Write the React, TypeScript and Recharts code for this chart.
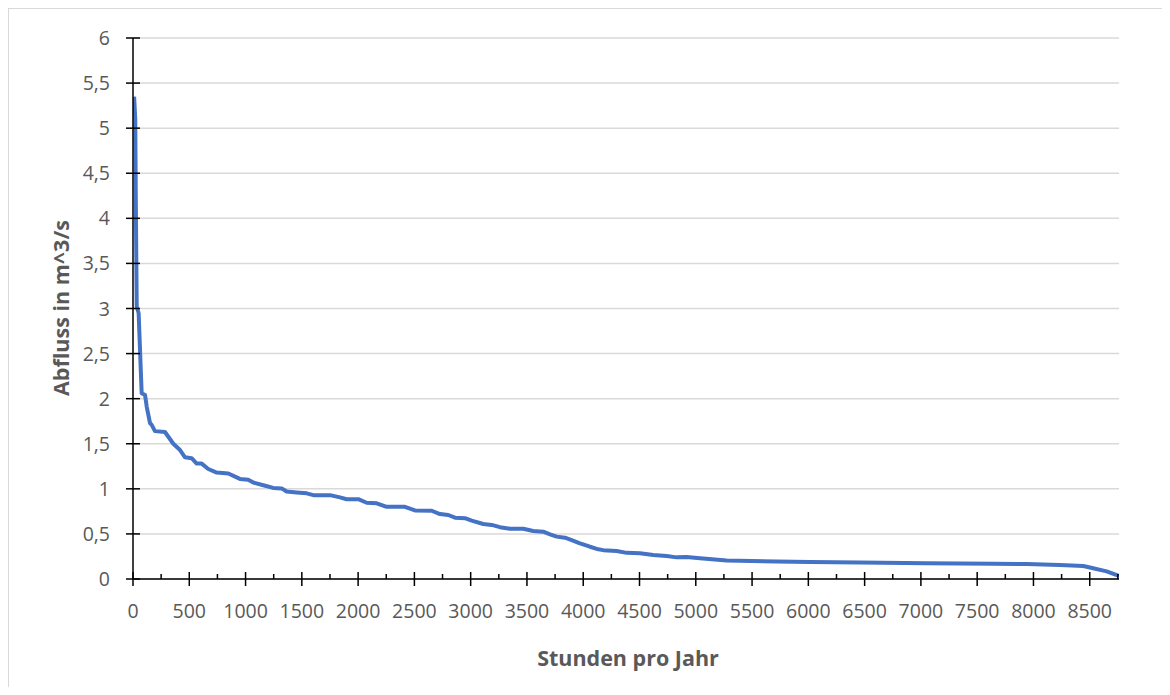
import { LineChart, Line, XAxis, YAxis, CartesianGrid } from 'recharts';

// Dauerlinie: hours of the year (sorted) vs. discharge in m^3/s
const HOURS = [
  10, 20, 25, 33, 50, 77, 107, 122, 151, 166, 195, 284, 358, 418, 462, 521, 566, 610, 669, 744,
  847, 950, 1024, 1069, 1158, 1246, 1321, 1365, 1454, 1543, 1602, 1750, 1839, 1898, 2002, 2076,
  2165, 2254, 2416, 2505, 2654, 2727, 2801, 2861, 2949, 3009, 3112, 3187, 3260, 3349, 3467, 3556,
  3645, 3705, 3764, 3838, 3897, 3971, 4060, 4134, 4178, 4297, 4386, 4504, 4622, 4741, 4830, 4919,
  5037, 5275, 5719, 6015, 6459, 7051, 7643, 7940, 8235, 8443, 8531, 8650, 8760,
];
const FLOW = [
  5.35, 5.1, 4.2, 3.02, 2.95, 2.06, 2.04, 1.91, 1.73, 1.71, 1.64, 1.63, 1.5, 1.43, 1.35, 1.34, 1.28, 1.28, 1.22, 1.18,
  1.17, 1.11, 1.1, 1.07, 1.04, 1.01, 1.005, 0.97, 0.96, 0.95, 0.93, 0.93, 0.905, 0.885, 0.885, 0.846,
  0.84, 0.8, 0.8, 0.76, 0.757, 0.72, 0.71, 0.68, 0.675, 0.647, 0.61, 0.6, 0.575, 0.558, 0.558, 0.532,
  0.525, 0.496, 0.47, 0.458, 0.432, 0.396, 0.358, 0.329, 0.32, 0.31, 0.29, 0.285, 0.266, 0.255, 0.24, 0.245,
  0.23, 0.205, 0.195, 0.188, 0.183, 0.176, 0.168, 0.166, 0.155, 0.144, 0.12, 0.085, 0.035,
];

const X_TICKS = [
  0, 250, 500, 750, 1000, 1250, 1500, 1750, 2000, 2250, 2500, 2750, 3000, 3250, 3500, 3750, 4000,
  4250, 4500, 4750, 5000, 5250, 5500, 5750, 6000, 6250, 6500, 6750, 7000, 7250, 7500, 7750, 8000,
  8250, 8500, 8750,
];
const Y_TICKS = [0, 0.5, 1, 1.5, 2, 2.5, 3, 3.5, 4, 4.5, 5, 5.5, 6];

const X_TITLE = 'Stunden pro Jahr';
const Y_TITLE = 'Abfluss in m^3/s';

const data = HOURS.map((h, i) => ({ h, q: FLOW[i] }));

const FONT = '"Open Sans", sans-serif';
const TEXT = '#595959';

const XTick = (props: any) => {
  const { x, y, payload } = props;
  const major = payload.value % 500 === 0;
  return (
    <g>
      <line x1={x} x2={x} y1={major ? y - 7 : y - 5} y2={major ? y + 7 : y} stroke="#000" strokeWidth={1.5} />
      {major && (
        <text x={x} y={y + 39} textAnchor="middle" fill={TEXT} fontSize={19.5} fontFamily={FONT}>
          {payload.value}
        </text>
      )}
    </g>
  );
};

const YTick = (props: any) => {
  const { x, y, payload } = props;
  return (
    <g>
      <line x1={x - 7} x2={x + 7} y1={y} y2={y} stroke="#000" strokeWidth={1.5} />
      <text x={x - 23} y={y + 7} textAnchor="end" fill={TEXT} fontSize={19.5} fontFamily={FONT}>
        {String(payload.value).replace('.', ',')}
      </text>
    </g>
  );
};

const XTitle = () => (
  <text x={628} y={666} textAnchor="middle" fill={TEXT} fontSize={21.5} fontWeight={700} fontFamily={FONT}>
    {X_TITLE}
  </text>
);

const YTitle = () => (
  <text
    x={60}
    y={308}
    transform="rotate(-90 60 308)"
    textAnchor="middle"
    dominantBaseline="central"
    fill={TEXT}
    fontSize={21.5}
    fontWeight={700}
    fontFamily={FONT}
  >
    {Y_TITLE}
  </text>
);

export default function App() {
  return (
    <div style={{ position: 'relative', margin: -8, width: 1170, height: 695, overflow: 'hidden', background: '#fff', fontFamily: FONT }}>
      <div style={{ position: 'absolute', left: 8, top: 8, width: 1180, height: 710, border: '1.5px solid #d9d9d9' }} />
      <div style={{ position: 'absolute', left: 0, top: 0 }}>
        <LineChart width={1170} height={695} data={data} margin={{ top: 38, right: 51, left: 73, bottom: 76 }}>
          <CartesianGrid vertical={false} stroke="#d9d9d9" strokeWidth={1.5} />
          <XAxis
            dataKey="h"
            type="number"
            domain={[0, 8760]}
            ticks={X_TICKS}
            interval={0}
            height={40}
            tickSize={0}
            tickMargin={0}
            tickLine={false}
            axisLine={{ stroke: '#000', strokeWidth: 1.5 }}
            tick={<XTick />}
            label={<XTitle />}
            allowDataOverflow
          />
          <YAxis
            type="number"
            domain={[0, 6]}
            ticks={Y_TICKS}
            interval={0}
            width={60}
            tickSize={0}
            tickMargin={0}
            tickLine={false}
            axisLine={{ stroke: '#000', strokeWidth: 1.5 }}
            tick={<YTick />}
            label={<YTitle />}
          />
          <Line
            type="linear"
            dataKey="q"
            stroke="#4472C4"
            strokeWidth={4}
            strokeLinejoin="round"
            dot={false}
            isAnimationActive={false}
          />
        </LineChart>
      </div>
    </div>
  );
}
